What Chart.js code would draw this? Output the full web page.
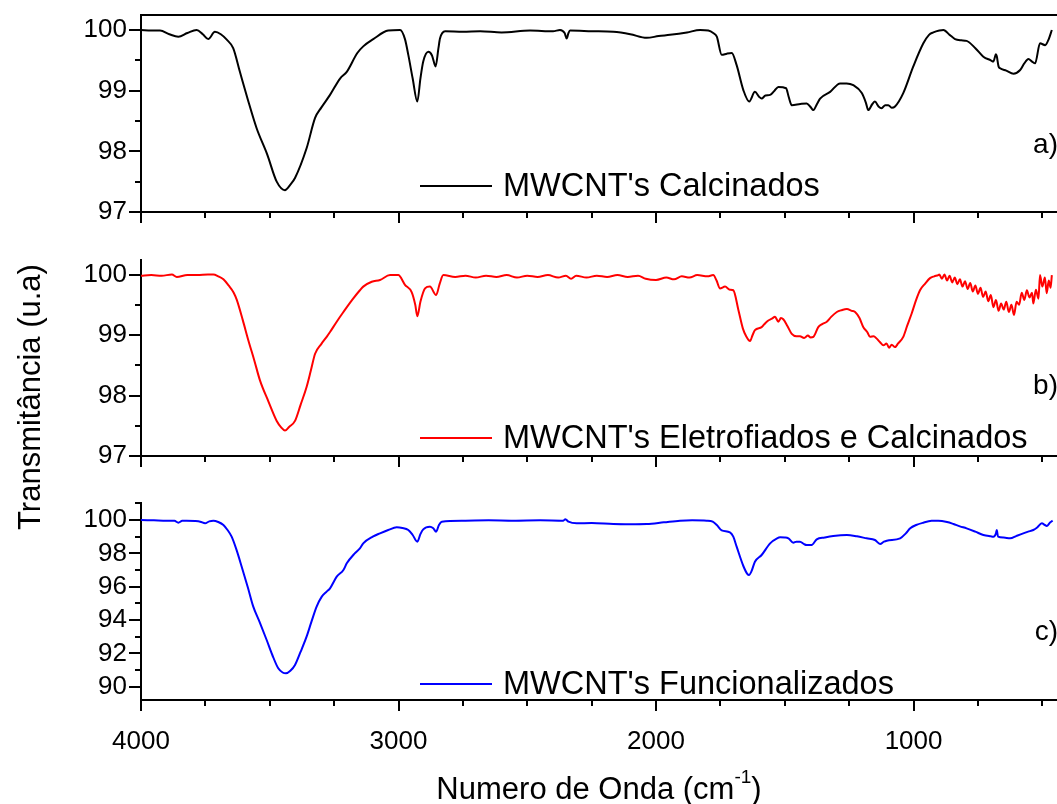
<!DOCTYPE html>
<html lang="pt">
<head>
<meta charset="utf-8">
<title>Espectros FTIR - MWCNT</title>
<script src="https://cdn.jsdelivr.net/npm/chart.js@4.4.0/dist/chart.umd.min.js"></script>
<style>
  html, body { margin: 0; padding: 0; background: #fff; }
  #wrap { position: relative; width: 1057px; height: 804px; overflow: hidden; }
  #wrap canvas { position: absolute; left: 0; top: 0; }
</style>
</head>
<body>
<div id="wrap">
  <canvas id="painelA" width="1057" height="804"></canvas>
  <canvas id="painelB" width="1057" height="804"></canvas>
  <canvas id="painelC" width="1057" height="804"></canvas>
</div>
<script>
// [numero de onda (cm-1), transmitancia (u.a)]
const calcinados = [
  [4000, 100.00], [3960, 99.99], [3926, 99.99], [3890, 99.93], [3855, 99.89], [3820, 99.95],
  [3784, 100.00], [3760, 99.93], [3739, 99.85], [3713, 99.97], [3690, 99.93], [3667, 99.84],
  [3642, 99.70], [3616, 99.31], [3585, 98.85], [3551, 98.38], [3510, 97.95], [3473, 97.50],
  [3441, 97.36], [3420, 97.45], [3402, 97.56], [3357, 98.05], [3324, 98.55], [3300, 98.72],
  [3266, 98.93], [3227, 99.20], [3201, 99.31], [3160, 99.62], [3137, 99.73], [3098, 99.85],
  [3040, 99.99], [2994, 100.00], [2975, 99.85], [2962, 99.59], [2945, 99.20], [2927, 98.82],
  [2915, 99.20], [2904, 99.48], [2884, 99.64], [2870, 99.58], [2856, 99.40], [2845, 99.70],
  [2839, 99.86], [2819, 99.98], [2750, 99.97], [2683, 99.98], [2600, 99.96], [2489, 99.99],
  [2400, 99.98], [2373, 100.00], [2355, 99.95], [2347, 99.86], [2340, 99.95], [2334, 99.99],
  [2250, 99.98], [2166, 99.97], [2100, 99.93], [2036, 99.87], [1990, 99.90], [1946, 99.92],
  [1880, 99.96], [1829, 100.00], [1797, 99.99], [1778, 99.95], [1764, 99.89], [1745, 99.59],
  [1725, 99.61], [1706, 99.62], [1687, 99.42], [1661, 99.01], [1638, 98.82], [1616, 98.98],
  [1600, 98.90], [1590, 98.87], [1575, 98.92], [1557, 98.93], [1540, 99.00], [1525, 99.06],
  [1495, 99.04], [1485, 98.90], [1473, 98.76], [1440, 98.78], [1415, 98.79], [1400, 98.73],
  [1389, 98.68], [1375, 98.78], [1363, 98.87], [1324, 98.98], [1285, 99.12], [1260, 99.12],
  [1234, 99.09], [1201, 98.96], [1185, 98.80], [1176, 98.68], [1160, 98.78], [1150, 98.82],
  [1136, 98.74], [1124, 98.71], [1110, 98.76], [1098, 98.76], [1085, 98.72], [1072, 98.74],
  [1040, 98.96], [1001, 99.40], [962, 99.78], [940, 99.92], [923, 99.96], [900, 99.99],
  [884, 100.00], [860, 99.92], [839, 99.85], [815, 99.83], [794, 99.82], [760, 99.70],
  [729, 99.56], [700, 99.50], [690, 99.48], [680, 99.60], [677, 99.57], [670, 99.40],
  [664, 99.37], [640, 99.33], [612, 99.28], [586, 99.34], [570, 99.45], [554, 99.52],
  [540, 99.48], [528, 99.45], [509, 99.78], [489, 99.75], [475, 99.85], [463, 100.00]
];

const eletrofiados = [
  [4000, 99.98], [3960, 99.99], [3920, 99.98], [3880, 100.00], [3861, 99.96], [3820, 99.99],
  [3780, 99.99], [3740, 100.00], [3719, 100.00], [3700, 99.97], [3680, 99.92], [3660, 99.82],
  [3640, 99.70], [3628, 99.58], [3605, 99.25], [3583, 98.91], [3560, 98.58], [3538, 98.25],
  [3505, 97.90], [3473, 97.58], [3455, 97.47], [3441, 97.42], [3425, 97.48], [3402, 97.58],
  [3380, 97.85], [3357, 98.14], [3340, 98.42], [3324, 98.69], [3300, 98.85], [3279, 98.97],
  [3266, 99.05], [3240, 99.22], [3214, 99.38], [3180, 99.58], [3150, 99.74], [3137, 99.80],
  [3104, 99.88], [3072, 99.91], [3033, 99.99], [3001, 99.99], [2975, 99.83], [2949, 99.71],
  [2935, 99.50], [2927, 99.31], [2915, 99.55], [2897, 99.77], [2878, 99.80], [2854, 99.66],
  [2840, 99.85], [2826, 99.99], [2780, 99.96], [2740, 99.98], [2700, 99.95], [2660, 99.98],
  [2620, 99.96], [2580, 99.99], [2540, 99.95], [2500, 99.98], [2460, 99.96], [2420, 99.99],
  [2380, 99.95], [2350, 99.98], [2330, 99.93], [2310, 99.98], [2270, 99.95], [2230, 99.98],
  [2190, 99.96], [2150, 99.99], [2110, 99.96], [2070, 99.98], [2040, 99.93], [2000, 99.91],
  [1960, 99.95], [1930, 99.92], [1900, 99.97], [1870, 99.95], [1840, 99.99], [1800, 99.97],
  [1778, 99.99], [1765, 99.90], [1752, 99.77], [1732, 99.80], [1713, 99.75], [1700, 99.74],
  [1680, 99.41], [1663, 99.11], [1650, 98.98], [1635, 98.90], [1625, 99.00], [1616, 99.08],
  [1590, 99.13], [1575, 99.20], [1564, 99.24], [1550, 99.27], [1538, 99.30], [1525, 99.22],
  [1515, 99.28], [1506, 99.26], [1490, 99.15], [1473, 99.02], [1455, 98.98], [1441, 98.98],
  [1425, 98.95], [1410, 98.99], [1400, 98.96], [1389, 98.97], [1370, 99.13], [1355, 99.18],
  [1337, 99.22], [1320, 99.30], [1298, 99.38], [1280, 99.41], [1259, 99.43], [1240, 99.40],
  [1227, 99.38], [1210, 99.28], [1195, 99.13], [1180, 99.05], [1169, 98.97], [1155, 98.98],
  [1143, 98.94], [1130, 98.88], [1117, 98.83], [1105, 98.86], [1095, 98.79], [1085, 98.84],
  [1072, 98.80], [1060, 98.86], [1040, 98.97], [1025, 99.15], [1007, 99.36], [990, 99.58],
  [975, 99.74], [955, 99.85], [936, 99.94], [920, 99.97], [904, 99.99], [900, 100.00],
  [890, 99.93], [880, 100.00], [870, 99.90], [860, 99.98], [850, 99.87], [840, 99.95],
  [830, 99.84], [820, 99.92], [810, 99.80], [800, 99.89], [790, 99.76], [780, 99.86],
  [770, 99.72], [760, 99.82], [750, 99.68], [740, 99.78], [730, 99.63], [720, 99.72],
  [710, 99.56], [700, 99.66], [690, 99.46], [680, 99.58], [670, 99.40], [660, 99.52],
  [650, 99.42], [640, 99.55], [630, 99.38], [620, 99.50], [610, 99.33], [600, 99.55],
  [590, 99.50], [580, 99.70], [570, 99.58], [560, 99.74], [550, 99.62], [540, 99.70],
  [535, 99.52], [525, 99.75], [515, 99.60], [509, 99.99], [500, 99.80], [490, 99.95],
  [483, 99.69], [475, 99.90], [468, 99.78], [463, 99.99]
];

const funcionalizados = [
  [4000, 100.00], [3950, 99.98], [3900, 99.96], [3870, 99.95], [3855, 99.84], [3840, 99.95],
  [3823, 99.96], [3790, 99.94], [3770, 99.90], [3751, 99.80], [3735, 99.92], [3719, 99.96],
  [3700, 99.88], [3680, 99.70], [3664, 99.40], [3648, 99.00], [3630, 98.25], [3609, 97.20],
  [3585, 95.95], [3564, 94.80], [3540, 93.90], [3512, 92.80], [3490, 91.90], [3467, 91.10],
  [3450, 90.85], [3437, 90.80], [3420, 90.95], [3402, 91.30], [3380, 92.10], [3357, 93.00],
  [3338, 93.90], [3318, 94.80], [3298, 95.40], [3279, 95.70], [3266, 95.90], [3240, 96.60],
  [3214, 97.00], [3201, 97.40], [3170, 98.00], [3150, 98.30], [3137, 98.60], [3100, 99.00],
  [3072, 99.20], [3040, 99.40], [3007, 99.56], [2985, 99.52], [2962, 99.40], [2945, 99.10],
  [2927, 98.70], [2915, 99.15], [2904, 99.44], [2878, 99.60], [2865, 99.50], [2854, 99.30],
  [2843, 99.70], [2832, 99.90], [2748, 99.96], [2650, 99.98], [2554, 99.96], [2450, 99.98],
  [2360, 99.96], [2352, 100.05], [2340, 99.90], [2308, 99.80], [2250, 99.82], [2166, 99.76],
  [2100, 99.75], [2036, 99.76], [1970, 99.86], [1907, 99.96], [1860, 99.98], [1803, 99.96],
  [1780, 99.90], [1764, 99.70], [1745, 99.38], [1713, 99.26], [1700, 99.00], [1687, 98.40],
  [1661, 97.24], [1645, 96.75], [1639, 96.70], [1630, 96.90], [1616, 97.50], [1590, 97.90],
  [1557, 98.60], [1530, 98.90], [1518, 98.96], [1500, 98.95], [1486, 98.90], [1467, 98.64],
  [1455, 98.70], [1441, 98.70], [1425, 98.55], [1415, 98.50], [1396, 98.50], [1376, 98.84],
  [1345, 98.95], [1312, 99.04], [1259, 99.10], [1220, 99.02], [1182, 98.90], [1150, 98.80],
  [1130, 98.56], [1115, 98.70], [1104, 98.76], [1052, 98.90], [1030, 99.20], [1013, 99.50],
  [990, 99.70], [962, 99.84], [930, 99.95], [904, 99.96], [870, 99.88], [845, 99.76],
  [820, 99.62], [794, 99.50], [760, 99.30], [729, 99.10], [700, 99.02], [690, 99.00],
  [680, 99.20], [677, 99.40], [672, 99.00], [650, 98.95], [625, 98.90], [600, 99.05],
  [574, 99.20], [555, 99.30], [535, 99.40], [520, 99.55], [502, 99.80], [490, 99.70],
  [483, 99.64], [470, 99.85], [460, 99.96]
];

// eixos
const xTicks = [4000, 3750, 3500, 3250, 3000, 2750, 2500, 2250, 2000, 1750, 1500, 1250, 1000, 750, 500];
const xLabels = [4000, 3000, 2000, 1000];
const yTicksAB = [97, 97.5, 98, 98.5, 99, 99.5, 100];
const yLabelsAB = [97, 98, 99, 100];
const yTicksC = [90, 91, 92, 93, 94, 95, 96, 97, 98, 99, 100, 101];
const yLabelsC = [90, 92, 94, 96, 98, 100];

const FONT = "'Liberation Sans', Arial, Helvetica, sans-serif";
const PAGE_H = 804;
const X_MIN = 443, X_MAX = 4000;

// tick marks (long/short), top frame, legend entry and panel letter
const decor = {
  id: 'decor',
  afterDraw(chart, args, o) {
    const {ctx, chartArea: area, scales: {x, y}} = chart;
    ctx.save();
    ctx.strokeStyle = '#000';
    ctx.lineWidth = 2;
    ctx.beginPath();
    x.ticks.forEach(t => {
      const px = Math.round(x.getPixelForValue(t.value));
      const len = xLabels.includes(t.value) ? 11 : 6;
      ctx.moveTo(px, area.bottom);
      ctx.lineTo(px, area.bottom + len);
    });
    y.ticks.forEach(t => {
      const py = Math.round(y.getPixelForValue(t.value));
      const len = o.yLabels.includes(t.value) ? 12 : 6;
      ctx.moveTo(area.left, py);
      ctx.lineTo(area.left - len, py);
    });
    if (o.topFrame) {
      ctx.moveTo(area.left - 1, area.top);
      ctx.lineTo(area.right, area.top);
    }
    ctx.stroke();

    const ds = chart.data.datasets[0];
    ctx.strokeStyle = ds.borderColor;
    ctx.lineWidth = 2;
    ctx.beginPath();
    ctx.moveTo(420, o.legendY);
    ctx.lineTo(492, o.legendY);
    ctx.stroke();
    ctx.fillStyle = '#000';
    ctx.textBaseline = 'middle';
    ctx.textAlign = 'left';
    ctx.font = '32.5px ' + FONT;
    ctx.fillText(ds.label, 503, o.legendY + 1);
    ctx.textAlign = 'right';
    ctx.font = '28px ' + FONT;
    ctx.fillText(o.letter, 1058, o.letterY);

    if (o.titles) {
      // y title, shared by the three panels
      ctx.save();
      ctx.translate(31, 397);
      ctx.rotate(-Math.PI / 2);
      ctx.textAlign = 'center';
      ctx.font = '31px ' + FONT;
      ctx.fillText('Transmitância (u.a)', 0, 0);
      ctx.restore();

      // x title with superscript -1
      const cx = (area.left + area.right) / 2, ty = 790;
      ctx.font = '31px ' + FONT;
      const a = 'Numero de Onda (cm', c = ')';
      const wa = ctx.measureText(a).width, wc = ctx.measureText(c).width;
      ctx.font = '19px ' + FONT;
      const wb = ctx.measureText('-1').width;
      const sx = cx - (wa + wb + wc) / 2;
      ctx.textAlign = 'left';
      ctx.font = '31px ' + FONT;
      ctx.fillText(a, sx, ty);
      ctx.font = '19px ' + FONT;
      ctx.fillText('-1', sx + wa, ty - 12);
      ctx.font = '31px ' + FONT;
      ctx.fillText(c, sx + wa + wb, ty);
    }
    ctx.restore();
  }
};

function buildPanel(id, label, color, points, opt) {
  const xBox = opt.titles ? 60 : 0;
  return new Chart(document.getElementById(id), {
    type: 'line',
    data: {
      datasets: [{
        label: label,
        data: points.map(([x, y]) => ({x, y})),
        borderColor: color,
        borderWidth: 2,
        pointRadius: 0,
        cubicInterpolationMode: 'monotone',
        fill: false
      }]
    },
    options: {
      responsive: false,
      animation: false,
      devicePixelRatio: 1,
      events: [],
      layout: {
        padding: {left: 41, right: 0, top: opt.top, bottom: PAGE_H - opt.bottom - xBox}
      },
      plugins: {
        legend: {display: false},
        tooltip: {enabled: false},
        decor: opt
      },
      scales: {
        x: {
          type: 'linear',
          reverse: true,
          bounds: 'data',
          min: X_MIN,
          max: X_MAX,
          afterBuildTicks: s => {
            s.ticks = xTicks.map(v => ({value: v}));
            s.min = X_MIN;
            s.max = X_MAX;
          },
          afterFit: s => {
            s.height = xBox;
            s.paddingLeft = 0;
            s.paddingRight = 0;
          },
          grid: {display: false, drawTicks: false},
          border: {display: true, color: '#000', width: 2},
          ticks: {
            display: !!opt.titles,
            autoSkip: false,
            maxRotation: 0,
            padding: 26,
            color: '#000',
            font: {family: FONT, size: 26},
            callback: v => xLabels.includes(v) ? String(v) : ''
          }
        },
        y: {
          type: 'linear',
          bounds: 'data',
          min: opt.yMin,
          max: opt.yMax,
          afterBuildTicks: s => {
            s.ticks = opt.yTicks.map(v => ({value: v}));
            s.min = opt.yMin;
            s.max = opt.yMax;
          },
          afterFit: s => {
            s.width = 100;
            s.paddingTop = 0;
            s.paddingBottom = 0;
          },
          grid: {display: false, drawTicks: false},
          border: {display: true, color: '#000', width: 2},
          ticks: {
            autoSkip: false,
            padding: 14,
            color: '#000',
            font: {family: FONT, size: 26},
            callback: v => opt.yLabels.includes(v) ? String(v) : ''
          }
        }
      }
    },
    plugins: [decor]
  });
}

buildPanel('painelA', "MWCNT's Calcinados", '#000000', calcinados, {
  top: 15, bottom: 212, yMin: 97, yMax: 100.247,
  yTicks: yTicksAB, yLabels: yLabelsAB,
  topFrame: true, legendY: 186, letter: 'a)', letterY: 145
});
buildPanel('painelB', "MWCNT's Eletrofiados e Calcinados", '#ff0000', eletrofiados, {
  top: 260, bottom: 456, yMin: 97, yMax: 100.24,
  yTicks: yTicksAB, yLabels: yLabelsAB,
  legendY: 438, letter: 'b)', letterY: 386
});
buildPanel('painelC', "MWCNT's Funcionalizados", '#0000ff', funcionalizados, {
  top: 503, bottom: 700, yMin: 89.2, yMax: 101.02,
  yTicks: yTicksC, yLabels: yLabelsC,
  legendY: 684, letter: 'c)', letterY: 632, titles: true
});
</script>
</body>
</html>
